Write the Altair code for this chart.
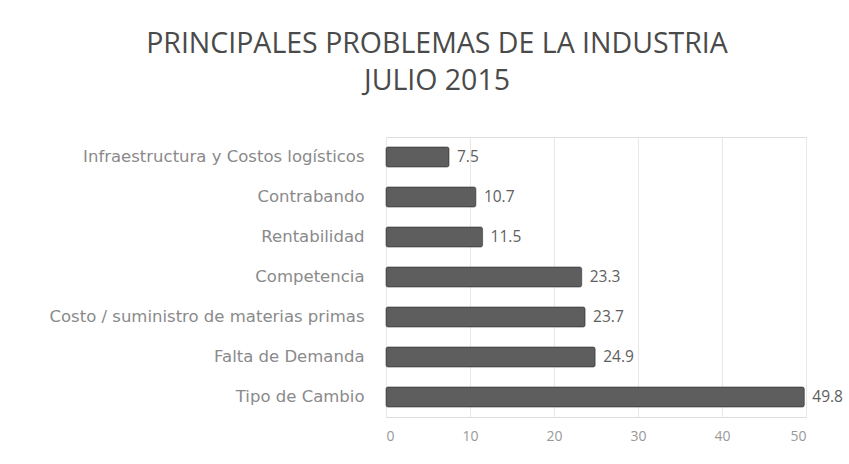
import altair as alt
import pandas as pd

categories = [
    "Infraestructura y Costos logísticos",
    "Contrabando",
    "Rentabilidad ",
    "Competencia",
    "Costo / suministro de materias primas",
    "Falta de Demanda",
    "Tipo de Cambio",
]
values = [7.5, 10.7, 11.5, 23.3, 23.7, 24.9, 49.8]
labels = ["7.5", "10.7", "11.5", "23.3", "23.7", "24.9", "49.8"]
x_ticks = [0, 10, 20, 30, 40, 50]

df = pd.DataFrame({"cat": categories, "val": values, "lab": labels})

y_enc = alt.Y(
    "cat:N",
    sort=categories,
    title=None,
    scale=alt.Scale(paddingInner=0.5, paddingOuter=0.25),
    axis=alt.Axis(
        ticks=False,
        domain=False,
        labelFont="DejaVu Sans",
        labelFontSize=16.5,
        labelFontWeight="normal",
        labelColor="#8a8a8a",
        labelPadding=22,
        labelLimit=400,
        grid=False,
    ),
)
x_enc = alt.X(
    "val:Q",
    title=None,
    scale=alt.Scale(domain=[0, 50], nice=False),
    axis=alt.Axis(
        values=x_ticks,
        ticks=False,
        domain=False,
        labelFont="Open Sans",
        labelFontSize=14,
        labelColor="#999999",
        labelPadding=12,
        grid=True,
        gridColor="#e8e8e8",
        gridWidth=1,
    ),
)

bars = alt.Chart(df).mark_bar(
    color="#5e5e5e", cornerRadius=2, stroke="#3a3a3a", strokeWidth=0.6
).encode(y=y_enc, x=x_enc)

text = alt.Chart(df).mark_text(
    align="left", baseline="middle", dx=8, font="Open Sans", fontSize=15.5, color="#606060"
).encode(y=alt.Y("cat:N", sort=categories), x="val:Q", text="lab:N")

chart = (
    alt.layer(bars, text)
    .properties(
        width=420,
        height=280,
        autosize=alt.AutoSizeParams(type="none"),
        padding={"left": 386, "top": 137, "right": 43, "bottom": 47},
        title=alt.TitleParams(
            text=["PRINCIPALES PROBLEMAS DE LA INDUSTRIA", "JULIO 2015"],
            font="Open Sans",
            fontSize=28.5,
            fontWeight="normal",
            color="#4a4a4a",
            lineHeight=37,
            anchor="middle",
            dx=-159,
            offset=42,
        ),
    )
    .configure_view(strokeWidth=0, strokeOpacity=0)
    .configure(background="white")
)

chart.save("out.html", embed_options={"renderer": "svg", "actions": False})
